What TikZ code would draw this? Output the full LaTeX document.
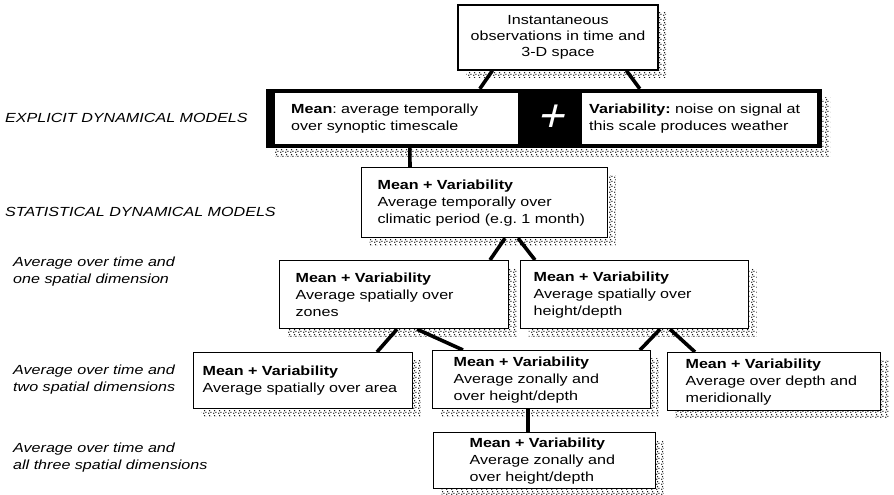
\documentclass[tikz,border=0pt]{standalone}
\usepackage{fontspec}
\setmainfont[FakeStretch=1.22]{Liberation Sans}
\newfontfamily\plusfont[FakeSlant=0.25]{Liberation Sans}
\usetikzlibrary{shadows,patterns,patterns.meta,calc}
\pgfdeclarelayer{bg}
\pgfsetlayers{bg,main}
\frenchspacing

% speckled stipple used for the drop shadows
\pgfdeclarepattern{
  name=speckle, type=uncolored,
  bottom left={\pgfpoint{0pt}{0pt}}, top right={\pgfpoint{4.5pt}{4.5pt}},
  tile size={\pgfpoint{4.5pt}{4.5pt}},
  code={
    \pgfpathcircle{\pgfpoint{0.9pt}{0.9pt}}{0.8pt}
    \pgfpathcircle{\pgfpoint{3.3pt}{1.9pt}}{0.8pt}
    \pgfpathcircle{\pgfpoint{1.7pt}{3.6pt}}{0.8pt}
    \pgfusepath{fill}
  }}

\begin{document}
\begin{tikzpicture}[x=1pt,y=-1pt,
  txt/.style={font=\fontsize{13.2}{17}\selectfont},
  link/.style={line width=3.6pt,black},
  stipple/.style={drop shadow={opacity=1,fill=none,pattern=speckle,pattern color=black,shadow xshift=8pt,shadow yshift=-8pt}},
  box/.style={txt,draw,line width=1.2pt,fill=white,anchor=north west,align=left,inner ysep=0pt,stipple},
  panel/.style={txt,fill=white,anchor=north west,align=left,inner ysep=0pt},
  lbl/.style={anchor=west,align=left,inner sep=0pt,font=\fontsize{13.2}{17}\selectfont\itshape}]

\useasboundingbox (0,0) rectangle (894,495);

% observation box at the top
\node[box,anchor=center,align=center,inner sep=0pt,minimum width=200pt,minimum height=65pt,
      font=\fontsize{13.2}{16}\selectfont] (obs) at (558,37.5)
  {Instantaneous\\observations in time and\\3-D space};

% explicit dynamical models: black frame with two panels
\node[fill=black,minimum width=556pt,minimum height=59pt,inner sep=0pt,stipple] (expl) at (544,118.5) {};
\node[panel,minimum width=243pt,minimum height=51pt,text width=211pt,inner xsep=16pt] (mean) at (275,93)
  {\textbf{Mean}: average temporally\\over synoptic timescale};
\node[panel,minimum width=235pt,minimum height=51pt,text width=221pt,inner xsep=7pt] (var) at (582,93)
  {\textbf{Variability:} noise on signal at\\this scale produces weather};
\node[text=white,inner sep=0pt,font=\fontsize{46}{46}\selectfont\plusfont] (plus) at (550,118) {+};

% statistical dynamical models
\node[box,minimum width=246pt,minimum height=70pt,text width=214pt,inner xsep=16pt] (stat) at (361,167)
  {\textbf{Mean + Variability}\\Average temporally over\\climatic period (e.g. 1 month)};

% one spatial dimension
\node[box,minimum width=229pt,minimum height=68pt,text width=197pt,inner xsep=16pt] (zone) at (279,260)
  {\textbf{Mean + Variability}\\Average spatially over\\zones};
\node[box,minimum width=228pt,minimum height=68pt,text width=202pt,inner xsep=13pt] (height) at (520,260)
  {\textbf{Mean + Variability}\\Average spatially over\\height/depth};

% two spatial dimensions
\node[box,minimum width=219pt,minimum height=56pt,text width=201pt,inner xsep=9pt] (area) at (193,352)
  {\textbf{Mean + Variability}\\Average spatially over area};
\node[box,minimum width=218pt,minimum height=58pt,text width=176pt,inner xsep=21pt] (zonal) at (432,350)
  {\textbf{Mean + Variability}\\Average zonally and\\over height/depth};
\node[box,minimum width=213pt,minimum height=58pt,text width=177pt,inner xsep=18pt] (merid) at (667,352)
  {\textbf{Mean + Variability}\\Average over depth and\\meridionally};

% all three spatial dimensions
\node[box,minimum width=222pt,minimum height=56pt,text width=150pt,inner xsep=36pt] (bottom) at (433,432)
  {\textbf{Mean + Variability}\\Average zonally and\\over height/depth};

% level labels
\node[lbl] (l1) at (5,118) {EXPLICIT DYNAMICAL MODELS};
\node[lbl] (l2) at (5,212) {STATISTICAL DYNAMICAL MODELS};
\node[lbl] (l3) at (13,272) {Average over time and\\one spatial dimension};
\node[lbl] (l4) at (13,380) {Average over time and\\two spatial dimensions};
\node[lbl] (l5) at (13,458) {Average over time and\\all three spatial dimensions};

% connectors, kept behind the boxes
\begin{pgfonlayer}{bg}
  \draw[link] ([xshift=35pt]obs.south west) -- ([xshift=214pt]expl.north west);
  \draw[link] ([xshift=169pt]obs.south west) -- ([xshift=374pt]expl.north west);
  \draw[link] ([xshift=144pt]expl.south west) -- ([xshift=49pt]stat.north west);
  \draw[link] ([xshift=144pt]stat.south west) -- ([xshift=211pt]zone.north west);
  \draw[link] ([xshift=157pt]stat.south west) -- ([xshift=15pt]height.north west);
  \draw[link] ([xshift=118pt]zone.south west) -- ([xshift=184pt]area.north west);
  \draw[link] ([xshift=138pt]zone.south west) -- ([xshift=31pt]zonal.north west);
  \draw[link] ([xshift=140pt]height.south west) -- ([xshift=208pt]zonal.north west);
  \draw[link] ([xshift=150pt]height.south west) -- ([xshift=28pt]merid.north west);
  \draw[link] ([xshift=96pt]zonal.south west) -- ([xshift=95pt]bottom.north west);
\end{pgfonlayer}
\end{tikzpicture}
\end{document}
